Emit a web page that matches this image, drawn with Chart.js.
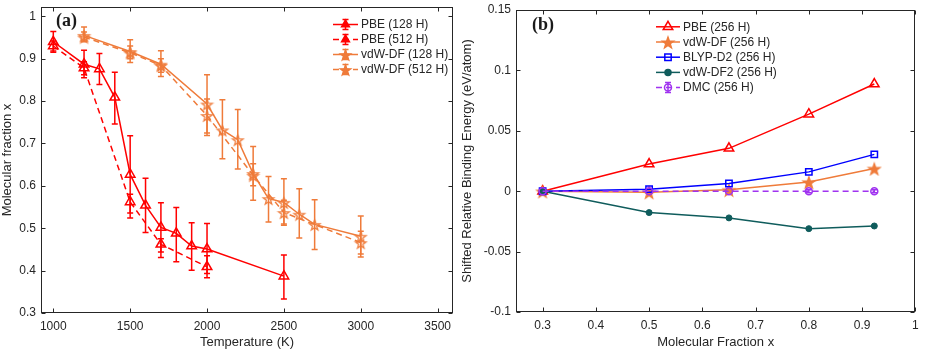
<!DOCTYPE html>
<html>
<head>
<meta charset="utf-8">
<script src="https://cdn.jsdelivr.net/npm/chart.js@4.4.1/dist/chart.umd.min.js"></script>
<style>
  html, body { margin: 0; padding: 0; background: #fff; }
  #wrap { position: relative; width: 926px; height: 354px; }
  canvas { position: absolute; top: 0; }
  #chartA { left: 0; }
  #chartB { left: 460px; }
</style>
</head>
<body>
<div id="wrap">
  <canvas id="chartA" width="460" height="354"></canvas>
  <canvas id="chartB" width="466" height="354"></canvas>
</div>
<script>
// ---- panel (a): molecular fraction vs temperature ----
const pbe128T  = [1000, 1200, 1300, 1400, 1500, 1600, 1700, 1800, 1900, 2000, 2500];
const pbe128X  = [0.940, 0.887, 0.876, 0.809, 0.627, 0.554, 0.502, 0.488, 0.458, 0.451, 0.387];
const pbe128Lo = [0.915, 0.855, 0.839, 0.746, 0.536, 0.490, 0.444, 0.421, 0.401, 0.393, 0.333];
const pbe128Hi = [0.964, 0.920, 0.912, 0.868, 0.718, 0.618, 0.560, 0.549, 0.513, 0.511, 0.437];

const pbe512T  = [1000, 1200, 1500, 1700, 2000];
const pbe512X  = [0.930, 0.878, 0.562, 0.462, 0.409];
const pbe512Lo = [0.918, 0.862, 0.524, 0.431, 0.383];
const pbe512Hi = [0.942, 0.893, 0.580, 0.475, 0.435];

const vdw128T  = [1200, 1500, 1700, 2000, 2100, 2200, 2300, 2400, 2500, 2600, 2700, 3000];
const vdw128X  = [0.955, 0.917, 0.887, 0.793, 0.732, 0.709, 0.629, 0.570, 0.561, 0.533, 0.509, 0.481];
const vdw128Lo = [0.942, 0.891, 0.858, 0.725, 0.664, 0.640, 0.566, 0.515, 0.510, 0.477, 0.450, 0.432];
const vdw128Hi = [0.975, 0.945, 0.919, 0.862, 0.803, 0.780, 0.693, 0.622, 0.617, 0.593, 0.567, 0.529];

const vdw512T  = [1200, 1500, 1700, 2000, 2300, 2500, 3000];
const vdw512X  = [0.951, 0.914, 0.884, 0.766, 0.625, 0.537, 0.466];
const vdw512Lo = [0.940, 0.900, 0.868, 0.719, 0.600, 0.507, 0.439];
const vdw512Hi = [0.963, 0.930, 0.900, 0.805, 0.652, 0.566, 0.493];

const tempTicks = [1000, 1500, 2000, 2500, 3000, 3500];
const fracTicksA = [0.3, 0.4, 0.5, 0.6, 0.7, 0.8, 0.9, 1];

// ---- panel (b): shifted relative binding energy ----
const fracX    = [0.3, 0.5, 0.65, 0.8, 0.923];
const pbe256   = [0, 0.0225, 0.0355, 0.0638, 0.0887];
const vdw256   = [0, -0.0008, 0.0012, 0.0077, 0.0188];
const blyp256  = [0, 0.0017, 0.0064, 0.0160, 0.0305];
const vdw2256  = [0, -0.0177, -0.0221, -0.0310, -0.0288];
const dmc256   = [0, 0, 0, 0, 0];
const dmcErr   = [0.0012, 0.0012, 0.0012, 0.0012, 0.0012];

const fracTicksB = [0.3, 0.4, 0.5, 0.6, 0.7, 0.8, 0.9, 1];
const energyTicks = [-0.1, -0.05, 0, 0.05, 0.1, 0.15];

const RED = '#ff0000';
const ORANGE = '#ef7b3a';
const BLUE = '#0000ff';
const TEAL = '#0f5c5c';
const PURPLE = '#a033f0';
const INK = '#262626';
const SANS = '"Liberation Sans", Arial, Helvetica, sans-serif';

function pts(xs, ys) {
    return xs.map((x, i) => ({ x: x, y: ys[i] }));
}

// five-point star marker (MATLAB pentagram)
function starImage(R, color, filled) {
    const c = document.createElement('canvas');
    const s = Math.ceil(2 * R + 4);
    c.width = s; c.height = s;
    const g = c.getContext('2d');
    g.beginPath();
    for (let k = 0; k < 10; k++) {
        const r = k % 2 ? R * 0.4 : R;
        const a = -Math.PI / 2 + k * Math.PI / 5;
        g.lineTo(s / 2 + r * Math.cos(a), s / 2 + 1 + r * Math.sin(a));
    }
    g.closePath();
    if (filled) { g.fillStyle = color; g.fill(); }
    g.strokeStyle = color;
    g.lineWidth = 1.3;
    g.stroke();
    return c;
}

const starA = starImage(5.5, ORANGE, false);
const starB = starImage(6, ORANGE, true);
const starLegA = starImage(5.5, ORANGE, true);

// error bars, drawn under the lines and markers
const errorBars = {
    id: 'errorBars',
    beforeDatasetsDraw(chart) {
        const { ctx, scales } = chart;
        chart.data.datasets.forEach((ds) => {
            if (!ds.errLo) return;
            ctx.save();
            ctx.strokeStyle = ds.borderColor;
            ctx.lineWidth = 1.5;
            ds.data.forEach((p, j) => {
                const x = scales.x.getPixelForValue(p.x);
                const y1 = scales.y.getPixelForValue(ds.errLo[j]);
                const y2 = scales.y.getPixelForValue(ds.errHi[j]);
                ctx.beginPath();
                ctx.moveTo(x, y1); ctx.lineTo(x, y2);
                ctx.moveTo(x - 3, y1); ctx.lineTo(x + 3, y1);
                ctx.moveTo(x - 3, y2); ctx.lineTo(x + 3, y2);
                ctx.stroke();
            });
            ctx.restore();
        });
    }
};

// box around the plot with inward ticks on all four sides, plus panel tag
const frameBox = {
    id: 'frameBox',
    afterDraw(chart, args, opts) {
        const { ctx, chartArea: a, scales } = chart;
        const L = Math.round(a.left) + 0.5, R = Math.round(a.right) - 0.5;
        const T = Math.round(a.top) + 0.5, B = Math.round(a.bottom) - 0.5;
        ctx.save();
        ctx.strokeStyle = INK;
        ctx.lineWidth = 1;
        ctx.strokeRect(L, T, R - L, B - T);
        ctx.beginPath();
        scales.x.ticks.forEach(t => {
            const px = Math.round(scales.x.getPixelForValue(t.value)) + 0.5;
            ctx.moveTo(px, B); ctx.lineTo(px, B - 4);
            ctx.moveTo(px, T); ctx.lineTo(px, T + 4);
        });
        scales.y.ticks.forEach(t => {
            const py = Math.round(scales.y.getPixelForValue(t.value)) + 0.5;
            ctx.moveTo(L, py); ctx.lineTo(L + 4, py);
            ctx.moveTo(R, py); ctx.lineTo(R - 4, py);
        });
        ctx.stroke();
        if (opts.tag) {
            ctx.fillStyle = '#1a1a1a';
            ctx.font = 'bold 18px "Liberation Serif", "Times New Roman", serif';
            ctx.textBaseline = 'middle';
            ctx.fillText(opts.tag, opts.tagX, opts.tagY);
        }
        ctx.restore();
    }
};

function drawMarker(ctx, style, x, y, r, color, fill) {
    if (style instanceof HTMLCanvasElement) {
        ctx.drawImage(style, x - style.width / 2, y - style.height / 2);
        return;
    }
    ctx.beginPath();
    if (style === 'triangle') {
        for (let k = 0; k < 3; k++) {
            const a = k * 2 * Math.PI / 3;
            ctx.lineTo(x + Math.sin(a) * r, y - Math.cos(a) * r);
        }
        ctx.closePath();
    } else if (style === 'rect') {
        const s = r * Math.SQRT1_2;
        ctx.rect(x - s, y - s, 2 * s, 2 * s);
    } else {
        ctx.arc(x, y, r, 0, Math.PI * 2);
    }
    if (fill) { ctx.fillStyle = color; ctx.fill(); }
    ctx.strokeStyle = color;
    ctx.lineWidth = 1.5;
    ctx.stroke();
}

// MATLAB-like legend: line sample, marker, optional error bar, text
const lineLegend = {
    id: 'lineLegend',
    afterDraw(chart, args, o) {
        const { ctx } = chart;
        ctx.save();
        chart.data.datasets.forEach((ds, i) => {
            const y = o.y0 + i * o.dy;
            const mid = (o.x0 + o.x1) / 2;
            ctx.strokeStyle = ds.borderColor;
            ctx.lineWidth = 1.5;
            ctx.setLineDash(ds.borderDash || []);
            ctx.beginPath();
            ctx.moveTo(o.x0, y); ctx.lineTo(o.x1, y);
            ctx.stroke();
            ctx.setLineDash([]);
            if (ds.errLo) {
                ctx.beginPath();
                ctx.moveTo(mid, y - 5); ctx.lineTo(mid, y + 5);
                ctx.moveTo(mid - 3, y - 5); ctx.lineTo(mid + 3, y - 5);
                ctx.moveTo(mid - 3, y + 5); ctx.lineTo(mid + 3, y + 5);
                ctx.stroke();
            }
            const style = ds.legendStyle || ds.pointStyle;
            const filled = o.filled || ds.pointBackgroundColor !== 'rgba(0,0,0,0)';
            drawMarker(ctx, style, mid, y, o.r || ds.pointRadius, ds.borderColor, filled);
            ctx.fillStyle = INK;
            ctx.font = '12px ' + SANS;
            ctx.textBaseline = 'middle';
            ctx.fillText(ds.label, o.textX, y + 0.5);
        });
        ctx.restore();
    }
};

// linear axis with fixed tick values and a fixed thickness
function axis(min, max, tickVals, title, thick, tickPad, titlePad) {
    return {
        type: 'linear',
        min: min,
        max: max,
        afterBuildTicks: s => { s.ticks = tickVals.map(v => ({ value: v })); },
        afterFit: s => {
            if (s.isHorizontal()) s.height = thick; else s.width = thick;
            s.paddingTop = 0; s.paddingBottom = 0;
            s.paddingLeft = 0; s.paddingRight = 0;
        },
        grid: { display: false, drawTicks: false },
        border: { display: false },
        ticks: {
            font: { family: SANS, size: 12 },
            color: INK,
            autoSkip: false,
            maxRotation: 0,
            padding: tickPad,
            callback: v => String(v)
        },
        title: {
            display: true,
            text: title,
            color: INK,
            font: { family: SANS, size: 13 },
            padding: titlePad
        }
    };
}

const empty = 'rgba(0,0,0,0)';

new Chart(document.getElementById('chartA'), {
    type: 'line',
    data: {
        datasets: [
            {
                label: 'PBE (128 H)', data: pts(pbe128T, pbe128X), errLo: pbe128Lo, errHi: pbe128Hi,
                borderColor: RED, borderWidth: 1.5, pointStyle: 'triangle', pointRadius: 5.5,
                pointBorderWidth: 1.5, pointBackgroundColor: empty, pointBorderColor: RED
            },
            {
                label: 'PBE (512 H)', data: pts(pbe512T, pbe512X), errLo: pbe512Lo, errHi: pbe512Hi,
                borderColor: RED, borderWidth: 1.5, borderDash: [6, 4], pointStyle: 'triangle', pointRadius: 5.5,
                pointBorderWidth: 1.5, pointBackgroundColor: empty, pointBorderColor: RED
            },
            {
                label: 'vdW-DF (128 H)', data: pts(vdw128T, vdw128X), errLo: vdw128Lo, errHi: vdw128Hi,
                borderColor: ORANGE, borderWidth: 1.5, pointStyle: starA, legendStyle: starLegA
            },
            {
                label: 'vdW-DF (512 H)', data: pts(vdw512T, vdw512X), errLo: vdw512Lo, errHi: vdw512Hi,
                borderColor: ORANGE, borderWidth: 1.5, borderDash: [6, 4], pointStyle: starA, legendStyle: starLegA
            }
        ]
    },
    options: {
        responsive: false,
        animation: false,
        devicePixelRatio: 1,
        layout: { padding: { top: 5.5, right: 2.3, left: 0, bottom: 0 } },
        scales: {
            x: axis(920, 3600, tempTicks, 'Temperature (K)', 41, 6, { top: 0, bottom: 3.5 }),
            y: axis(0.3, 1.022, fracTicksA, 'Molecular fraction x', 41, 5, { top: 0, bottom: 0 })
        },
        plugins: {
            legend: { display: false },
            tooltip: { enabled: false },
            frameBox: { tag: '(a)', tagX: 56, tagY: 21 },
            lineLegend: { x0: 333, x1: 358, textX: 361, y0: 24.5, dy: 15, filled: true, r: 4.5 }
        }
    },
    plugins: [errorBars, frameBox, lineLegend]
});

new Chart(document.getElementById('chartB'), {
    type: 'line',
    data: {
        datasets: [
            {
                label: 'PBE (256 H)', data: pts(fracX, pbe256), order: 5,
                borderColor: RED, borderWidth: 1.5, pointStyle: 'triangle', pointRadius: 5.5,
                pointBorderWidth: 1.5, pointBackgroundColor: empty, pointBorderColor: RED
            },
            {
                label: 'vdW-DF (256 H)', data: pts(fracX, vdw256), order: 4,
                borderColor: ORANGE, borderWidth: 1.5, pointStyle: starB
            },
            {
                label: 'BLYP-D2 (256 H)', data: pts(fracX, blyp256), order: 3,
                borderColor: BLUE, borderWidth: 1.5, pointStyle: 'rect', pointRadius: 4.5,
                pointBorderWidth: 1.5, pointBackgroundColor: empty, pointBorderColor: BLUE
            },
            {
                label: 'vdW-DF2 (256 H)', data: pts(fracX, vdw2256), order: 2,
                borderColor: TEAL, borderWidth: 1.5, pointStyle: 'circle', pointRadius: 3,
                pointBorderWidth: 1, pointBackgroundColor: TEAL, pointBorderColor: TEAL
            },
            {
                label: 'DMC (256 H)', data: pts(fracX, dmc256), order: 1,
                errLo: dmc256.map((v, i) => v - dmcErr[i]), errHi: dmc256.map((v, i) => v + dmcErr[i]),
                borderColor: PURPLE, borderWidth: 1.5, borderDash: [6, 4], pointStyle: 'circle', pointRadius: 3.5,
                pointBorderWidth: 1.5, pointBackgroundColor: empty, pointBorderColor: PURPLE
            }
        ]
    },
    options: {
        responsive: false,
        animation: false,
        devicePixelRatio: 1,
        layout: { padding: { top: 10, right: 10.7, left: 0, bottom: 0 } },
        scales: {
            x: axis(0.25, 1, fracTicksB, 'Molecular Fraction x', 42, 6, { top: 0, bottom: 3.5 }),
            y: axis(-0.1, 0.15, energyTicks, 'Shifted Relative Binding Energy (eV/atom)', 56, 5, { top: 0, bottom: 0 })
        },
        plugins: {
            legend: { display: false },
            tooltip: { enabled: false },
            frameBox: { tag: '(b)', tagX: 72, tagY: 25 },
            lineLegend: { x0: 196, x1: 220, textX: 223, y0: 26.8, dy: 15.2 }
        }
    },
    plugins: [errorBars, frameBox, lineLegend]
});
</script>
</body>
</html>
